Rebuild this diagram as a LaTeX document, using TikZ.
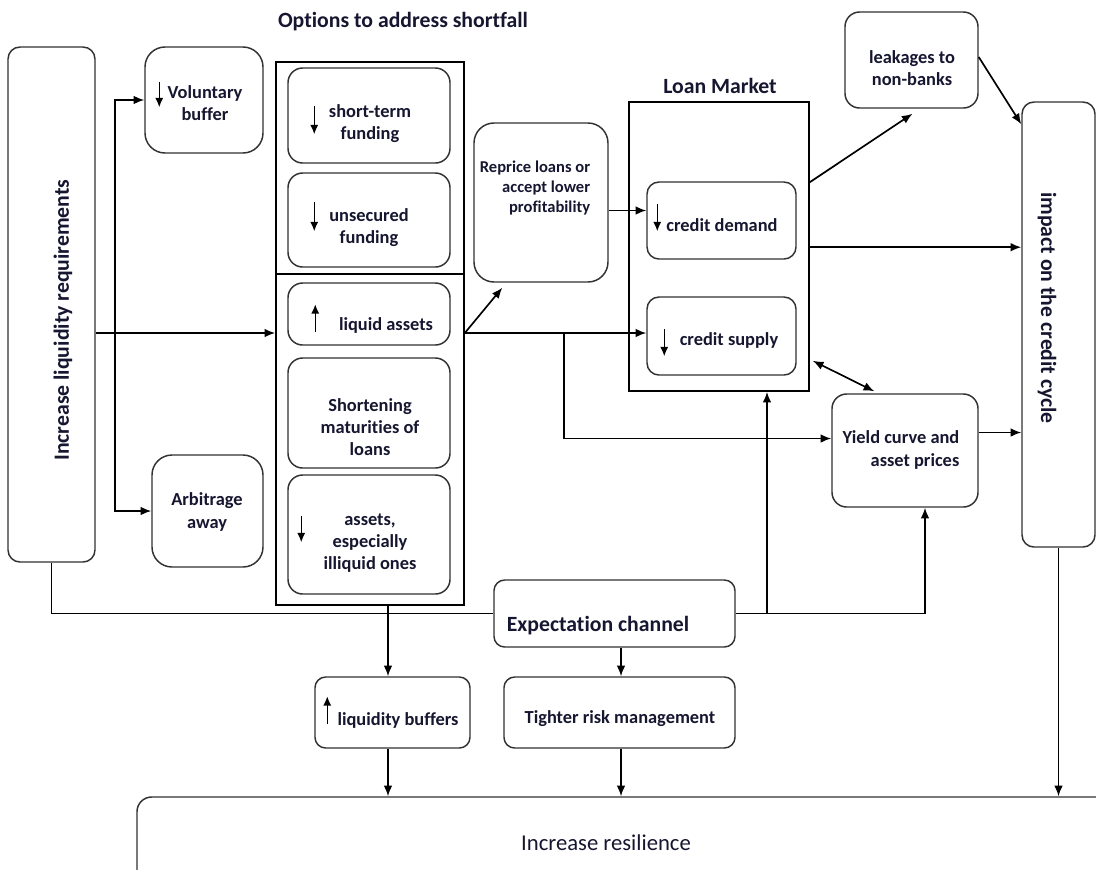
\documentclass[tikz,border=0pt]{standalone}
\usepackage{fontspec}
\setmainfont{Carlito}[Ligatures=NoCommon]
\usetikzlibrary{arrows.meta,calc,fit}
\definecolor{ink}{RGB}{22,22,48}
\definecolor{edge}{RGB}{50,50,50}
\newcommand\fBox{\bfseries\fontsize{13.8}{16.6}\selectfont}
\newcommand\fTitle{\bfseries\fontsize{16.3}{19.5}\selectfont}
\newcommand\fSmall{\bfseries\fontsize{12.4}{15}\selectfont}
\newcommand\fRes{\fontsize{17}{20}\selectfont}
\begin{document}
\begin{tikzpicture}[x=0.75pt,y=-0.75pt,
  box/.style={draw=edge,line width=1.1pt,rounded corners=#1,inner sep=0pt},
  box/.default=11pt,
  frame/.style={draw=black,line width=1.2pt,inner sep=0pt},
  conn/.style={draw=black,line width=1.25pt},
  arr/.style={conn,-{Latex[length=8pt,width=6.5pt]}},
  darr/.style={conn,{Latex[length=8pt,width=6.5pt]}-{Latex[length=8pt,width=6.5pt]}},
  icon/.style={draw=black,line width=1pt,-{Latex[length=7pt,width=6pt]}},
  txt/.style={text=ink,font=\fBox,align=center,inner sep=0pt},
  ttl/.style={text=ink,font=\fTitle,inner sep=0pt},
]
\useasboundingbox[fill=white] (0,0) rectangle (1096,869);

% ---- boxes ----
\node[box=9pt,  fit={(8,47) (95,562)}]      (req)  {};
\node[box=15pt, fit={(145,47) (263,153)}]   (vol)  {};
\node[box=15pt, fit={(152,455) (263,567)}]  (arb)  {};
\node[frame,    fit={(276,62) (464,605)}]   (opts) {};
\node[box,      fit={(288,68) (450,163)}]   (st)   {};
\node[box,      fit={(288,173) (450,267)}]  (us)   {};
\node[box,      fit={(288,283) (450,345)}]  (liq)  {};
\node[box,      fit={(288,358) (450,468)}]  (sh)   {};
\node[box,      fit={(288,475) (450,594)}]  (as)   {};
\node[box=15pt, fit={(474,123) (608,282)}]  (rep)  {};
\node[frame,    fit={(629,102) (809,391)}]  (lm)   {};
\node[box=9pt,  fit={(647,182) (796,259)}]  (dem)  {};
\node[box=9pt,  fit={(647,297) (796,375)}]  (sup)  {};
\node[box,      fit={(845,12) (978,108)}]   (leak) {};
\node[box=9pt,  fit={(1022,102) (1095,547)}] (imp) {};
\node[box,      fit={(832,394) (978,507)}]  (yc)   {};
\node[box=8pt,  fit={(494,580) (735,647)}]  (exp)  {};
\node[box=8pt,  fit={(315,677) (470,748)}]  (lb)   {};
\node[box=8pt,  fit={(504,677) (735,748)}]  (trm)  {};
\node[box,      fit={(137,797) (1130,900)}] (res)  {};

% divider inside the options frame
\coordinate (divy) at (0,274);
\draw[conn] (opts.west |- divy) -- (opts.east |- divy);

% ---- titles and texts ----
\node[ttl] (optsT) at (403,22) {Options to address shortfall};
\node[ttl] (lmT) at (720,86) {Loan Market};
\node[txt,font=\fTitle,rotate=90] (reqT) at (63,320) {Increase liquidity requirements};
\node[txt,font=\fTitle,rotate=-90] (impT) at (1047,308) {impact on the credit cycle};
\node[txt] (volT) at (205,103) {Voluntary\\buffer};
\node[txt] (arbT) at (207,512) {Arbitrage\\away};
\node[txt] (stT) at (370,124) {short-term\\funding};
\node[txt] (usT) at (369,228) {unsecured\\funding};
\node[txt] (liqT) at (386,325) {liquid assets};
\node[txt] (shT) at (370,427) {Shortening\\maturities of\\loans};
\node[txt] (asT) at (370,543) {assets,\\especially\\illiquid ones};
\node[txt,font=\fSmall,align=right] (repT) at (535,188) {Reprice loans or\\accept lower\\profitability};
\node[txt] (demT) at (722,225) {credit demand};
\node[txt] (supT) at (729,340) {credit supply};
\node[txt] (leakT) at (912,68) {leakages to\\non-banks};
\node[txt,align=right] (ycT) at (901,450) {Yield curve and\\asset prices};
\node[txt,font=\fTitle] (expT) at (598,626) {Expectation channel};
\node[txt] (lbT) at (398,720) {liquidity buffers};
\node[txt] (trmT) at (620,719) {Tighter risk management};
\node[txt,font=\fRes] (resT) at (606,843) {Increase resilience};

% ---- up/down markers inside boxes ----
\draw[icon] ($(vol.north west)+(15,36)$) -- ++(0,25);
\draw[icon] ($(st.north west)+(27,39)$) -- ++(0,28);
\draw[icon] ($(us.north west)+(27,30)$) -- ++(0,29);
\draw[icon] ($(liq.north west)+(28,50)$) -- ++(0,-28);
\draw[icon] ($(as.north west)+(14,42)$) -- ++(0,26);
\draw[icon] ($(dem.north west)+(11,23)$) -- ++(0,27);
\draw[icon] ($(sup.north west)+(18,33)$) -- ++(0,27);
\draw[icon] ($(lb.north west)+(13,48)$) -- ++(0,-28);

% ---- connectors ----
\coordinate (lvl) at (0,333);
\coordinate (br) at (115,333);
\coordinate (fork) at (564,333);
\coordinate (forkx) at (767,0);
\coordinate (lbx) at (388,0);
\coordinate (tx) at (621,0);
\coordinate (rp) at ($(rep.east)+(0,8)$);
\coordinate (lm2) at ($(lm.north east)+(0,146)$);
\coordinate (yc2) at ($(yc.east)+(0,-18)$);

\draw[arr] (req.east |- lvl) -- (opts.west |- lvl);
\draw[arr] (br) |- (vol.west);
\draw[arr] (br) |- (arb.west);
\draw[arr] (opts.east |- lvl) -- ($(rep.south west)+(29,5)$);
\draw[arr] (opts.east |- lvl) -- (sup.west |- lvl);
\draw[arr] (fork) |- ($(yc.west)+(0,-12)$);
\draw[arr] (rp) -- (rp -| dem.west);
\draw[arr] ($(lm.north east)+(0,81)$) -- ($(leak.south)+(1,5)$);
\draw[arr] ($(leak.east)+(0,-3)$) -- ($(imp.north west)+(0,23)$);
\draw[arr] (lm2) -- (lm2 -| imp.west);
\draw[darr] ($(lm.south east)+(3,-31)$) -- ($(yc.north west)+(43,-2)$);
\draw[arr] (yc2) -- (yc2 -| imp.west);
\draw[conn] (req.south) |- (exp.west);
\draw[arr] (exp.east) -| ($(yc.south)+(20,0)$);
\draw[arr] (exp.east -| forkx) -- (forkx |- lm.south);
\draw[arr] (opts.south -| lbx) -- (lb.north -| lbx);
\draw[arr] (lb.south -| lbx) -- (res.north -| lbx);
\draw[arr] (exp.south -| tx) -- (trm.north -| tx);
\draw[arr] (trm.south -| tx) -- (res.north -| tx);
\draw[arr] (imp.south) -- (imp.south |- res.north);
\end{tikzpicture}
\end{document}
